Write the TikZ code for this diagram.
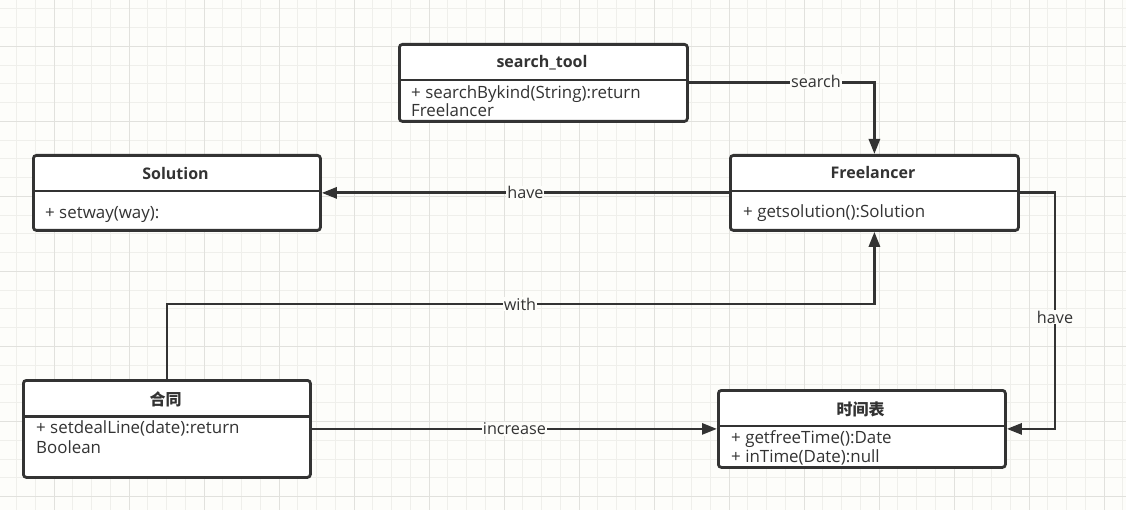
\documentclass[tikz,border=0pt]{standalone}
\usepackage{fontspec}
\setmainfont{Open Sans}
\newfontfamily\cjk{Noto Sans CJK SC}
\usetikzlibrary{arrows.meta}
\definecolor{bg}{RGB}{253,253,250}
\definecolor{gmin}{RGB}{239,239,235}
\definecolor{gmaj}{RGB}{225,225,221}
\definecolor{ink}{RGB}{51,51,51}
\begin{document}
\begin{tikzpicture}[x=1pt,y=-1pt,
  box/.style={draw=ink, line width=2.8pt, rounded corners=3pt, fill=white, inner sep=0pt, anchor=north west},
  divider/.style={draw=ink, line width=2.8pt},
  ttl/.style={anchor=base, inner sep=0pt, text=ink, font=\fontsize{16}{19}\selectfont\bfseries},
  cttl/.style={anchor=base, inner sep=0pt, text=ink, font=\fontsize{16}{19}\selectfont\cjk\bfseries},
  attr/.style={anchor=base west, inner sep=0pt, text=ink, font=\fontsize{16.9}{19}\selectfont},
  conn/.style={draw=ink, line width=2.8pt, -{Triangle[length=15pt,width=11pt]}},
  lbl/.style={fill=bg, inner sep=1pt, text=ink, font=\fontsize{16.2}{19}\selectfont}]
\useasboundingbox (0,0) rectangle (1126,510);
\fill[bg] (0,0) rectangle (1126,510);
\begin{scope}
\clip (0,0) rectangle (1126,510);
\foreach \i in {0,...,61} \draw[gmin, line width=1pt] ({-2.05+18.75*\i},0) -- ({-2.05+18.75*\i},510);
\foreach \j in {0,...,28} \draw[gmin, line width=1pt] (0,{-9.75+18.75*\j}) -- (1126,{-9.75+18.75*\j});
\foreach \i in {0,...,14} \draw[gmaj, line width=1pt] ({54.2+75*\i},0) -- ({54.2+75*\i},510);
\foreach \j in {0,...,6} \draw[gmaj, line width=1pt] (0,{46.5+75*\j}) -- (1126,{46.5+75*\j});
\end{scope}

% boxes
\node[box, minimum width=288pt, minimum height=77pt] (st) at (398,43) {};
\node[box, minimum width=287pt, minimum height=75pt] (sol) at (32,154) {};
\node[box, minimum width=288pt, minimum height=75pt] (fl) at (729,154) {};
\node[box, minimum width=287pt, minimum height=97pt] (ht) at (22,379) {};
\node[box, minimum width=287pt, minimum height=77pt] (sj) at (717,389) {};

% dividers
\draw[divider] (398,80) -- (686,80);
\draw[divider] (32,191) -- (319,191);
\draw[divider] (729,191) -- (1017,191);
\draw[divider] (22,416.5) -- (309,416.5);
\draw[divider] (717,426) -- (1004,426);

% titles
\node[ttl] (stT) at (542,67.7) {search\_tool};
\node[ttl] (solT) at (175.5,179.3) {Solution};
\node[ttl] (flT) at (873,179) {Freelancer};
\node[cttl] (htT) at (165.5,405) {合同};
\node[cttl] (sjT) at (860.5,415) {时间表};

% attributes
\node[attr] (st1) at (411,98.3) {+ searchBykind(String):return};
\node[attr] (st2) at (411,117) {Freelancer};
\node[attr] (sol1) at (45,218.3) {+ setway(way):};
\node[attr] (fl1) at (743,217.7) {+ getsolution():Solution};
\node[attr] (ht1) at (36,433.3) {+ setdealLine(date):return};
\node[attr] (ht2) at (36,453.3) {Boolean};
\node[attr] (sj1) at (731,443.3) {+ getfreeTime():Date};
\node[attr] (sj2) at (731,462.7) {+ inTime(Date):null};

% connectors
\coordinate (sc) at (816,81.5);
\coordinate (wc) at (520,304);
\coordinate (hc) at (1055,317);
\draw[conn] (st.east) -| (fl.north);
\node[lbl] (lsearch) at (sc) {search};
\draw[conn] (fl.west) -- node[lbl] (lhave1) {have} (sol.east);
\draw[conn] (ht.north) |- (wc) -| (fl.south);
\node[lbl] (lwith) at (wc) {with};
\draw[conn] (fl.east) -| (hc) |- (sj.east);
\node[lbl] (lhave2) at (hc) {have};
\draw[conn] (ht.east) -- node[lbl] (linc) {increase} (sj.west);
\end{tikzpicture}
\end{document}
